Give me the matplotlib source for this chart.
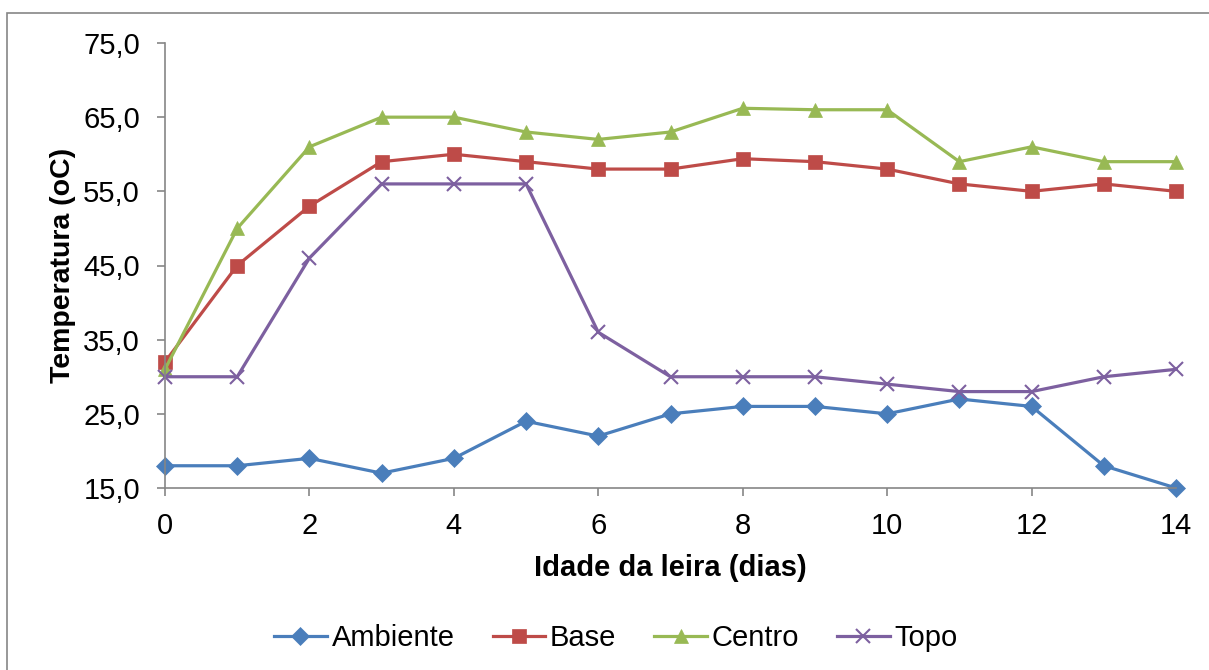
import matplotlib
matplotlib.use("Agg")
import matplotlib.pyplot as plt
from matplotlib.patches import Rectangle
from matplotlib.ticker import FuncFormatter

plt.rcParams['font.family'] = ['Liberation Sans', 'DejaVu Sans']

dias = list(range(15))
ambiente = [18, 18, 19, 17, 19, 24, 22, 25, 26, 26, 25, 27, 26, 18, 15]
base = [32, 45, 53, 59, 60, 59, 58, 58, 59.4, 59, 58, 56, 55, 56, 55]
centro = [31, 50, 61, 65, 65, 63, 62, 63, 66.2, 66, 66, 59, 61, 59, 59]
topo = [30, 30, 46, 56, 56, 56, 36, 30, 30, 30, 29, 28, 28, 30, 31]
x_ticks = list(range(0, 15, 2))
y_ticks = [15, 25, 35, 45, 55, 65, 75]

series = [
    ("Ambiente", ambiente, "#4A7EBB", "D", 9),
    ("Base", base, "#BE4B48", "s", 9.5),
    ("Centro", centro, "#98B954", "^", 10),
    ("Topo", topo, "#7D60A0", "x", 10),
]

fig = plt.figure(figsize=(12.09, 6.70), dpi=100)
fig.patches.append(Rectangle((7 / 1209, -0.01), 1.02, 1 - 13 / 670 + 0.01,
                             transform=fig.transFigure, fill=False,
                             edgecolor="#868686", linewidth=1.2))

ax = fig.add_axes([165 / 1209, 1 - 488 / 670, (1176 - 165) / 1209, (488 - 43) / 670])

for name, vals, color, marker, ms in series:
    ax.plot(dias, vals, color=color, linewidth=2.3, marker=marker, markersize=ms,
            markeredgewidth=1.5 if marker == "x" else 0.5,
            markeredgecolor=color, markerfacecolor=color, label=name,
            clip_on=False)

ax.set_xlim(0, 14)
ax.set_ylim(15, 75)
ax.set_xticks(x_ticks)
ax.set_yticks(y_ticks)
ax.yaxis.set_major_formatter(FuncFormatter(lambda v, p: f"{v:.1f}".replace(".", ",")))

for s in ("top", "right"):
    ax.spines[s].set_visible(False)
for s in ("left", "bottom"):
    ax.spines[s].set_color("#868686")
    ax.spines[s].set_linewidth(1.2)

ax.tick_params(axis="both", direction="out", color="#868686", width=1.2,
               length=6, labelsize=21)
ax.tick_params(axis="y", pad=12)
ax.tick_params(axis="x", pad=11)

ax.set_xlabel("Idade da leira (dias)", fontsize=21, fontweight="bold", labelpad=10)
ax.set_ylabel("Temperatura (oC)", fontsize=20.5, fontweight="bold", labelpad=5)

fig.legend(loc="center", bbox_to_anchor=(616 / 1209, 1 - 638 / 670), ncol=4,
           frameon=False, fontsize=21, handlelength=1.8, handletextpad=0.17,
           columnspacing=1.3)

fig.savefig("out.png", dpi=100)
